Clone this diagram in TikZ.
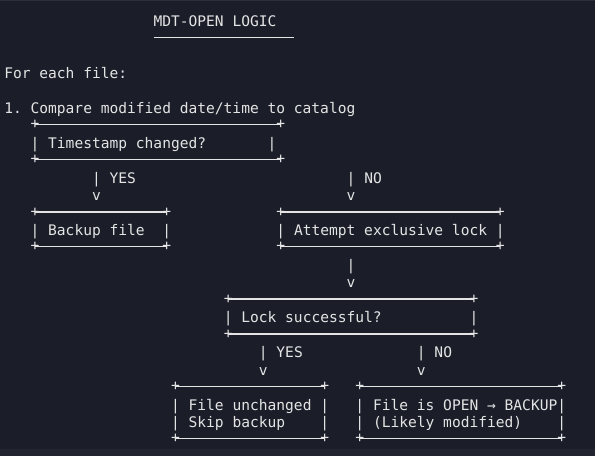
\documentclass[tikz,border=0pt]{standalone}
\usepackage{fontspec}
\setmonofont{DejaVu Sans Mono}
\definecolor{bg}{HTML}{1B1E29}
\definecolor{bgstrip}{HTML}{22252F}
\definecolor{topline}{HTML}{2C2F3A}
\definecolor{fg}{HTML}{E4E4E4}
\newcommand\mytx[4]{\node[txt] (#1) at ({4.27+8.78*#2},{26.2+17.45*#3}) {#4};}
\newcommand\mypl[3]{\node[plus] (#1) at ({8.66+8.78*#2},{19.9+17.45*#3}) {+};}
\begin{document}
\begin{tikzpicture}[x=1pt,y=-1pt,
  txt/.style={anchor=base west,inner sep=0pt,outer sep=0pt,text=fg,
    font=\ttfamily\fontsize{14.58}{17.45}\selectfont},
  plus/.style={anchor=center,inner sep=0pt,outer sep=0pt,text=fg,
    font=\ttfamily\fontsize{14.58}{17.45}\selectfont},
  hline/.style={draw=fg,line width=1.3pt}]
\useasboundingbox (0,0) rectangle (595,456);
\fill[bg] (0,0) rectangle (595,456);
\fill[bgstrip] (0,449) rectangle (595,456);
\fill[topline] (0,0) rectangle (595,1.2);

% title
\mytx{title}{17}{0}{MDT-OPEN LOGIC}
\coordinate (ulA) at (153.5,37.35);
\coordinate (ulB) at (294,37.35);
\draw[hline] (ulA) -- (ulB);

\mytx{intro}{0}{3}{For each file:}
\mytx{step1}{0}{5}{1. Compare modified date/time to catalog}

% box 1: Timestamp changed?
\mypl{b1tl}{3}{6}\mypl{b1tr}{31}{6}
\mytx{b1l}{3}{7}{|}\mytx{b1t}{5}{7}{Timestamp changed?}\mytx{b1r}{30}{7}{|}
\mypl{b1bl}{3}{8}\mypl{b1br}{31}{8}
\draw[hline] (b1tl.center) -- (b1tr.center);
\draw[hline] (b1bl.center) -- (b1br.center);

% branches from box 1
\mytx{y1bar}{10}{9}{|}\mytx{y1lab}{12}{9}{YES}
\mytx{n1bar}{39}{9}{|}\mytx{n1lab}{41}{9}{NO}
\mytx{y1v}{10}{10}{v}
\mytx{n1v}{39}{10}{v}

% box 2: Backup file
\mypl{b2tl}{3}{11}\mypl{b2tr}{18}{11}
\mytx{b2l}{3}{12}{|}\mytx{b2t}{5}{12}{Backup file}\mytx{b2r}{18}{12}{|}
\mypl{b2bl}{3}{13}\mypl{b2br}{18}{13}
\draw[hline] (b2tl.center) -- (b2tr.center);
\draw[hline] (b2bl.center) -- (b2br.center);

% box 3: Attempt exclusive lock
\mypl{b3tl}{31}{11}\mypl{b3tr}{56}{11}
\mytx{b3l}{31}{12}{|}\mytx{b3t}{33}{12}{Attempt exclusive lock}\mytx{b3r}{56}{12}{|}
\mypl{b3bl}{31}{13}\mypl{b3br}{56}{13}
\draw[hline] (b3tl.center) -- (b3tr.center);
\draw[hline] (b3bl.center) -- (b3br.center);

\mytx{a3bar}{39}{14}{|}
\mytx{a3v}{39}{15}{v}

% box 4: Lock successful?
\mypl{b4tl}{25}{16}\mypl{b4tr}{53}{16}
\mytx{b4l}{25}{17}{|}\mytx{b4t}{27}{17}{Lock successful?}\mytx{b4r}{53}{17}{|}
\mypl{b4bl}{25}{18}\mypl{b4br}{53}{18}
\draw[hline] (b4tl.center) -- (b4tr.center);
\draw[hline] (b4bl.center) -- (b4br.center);

\mytx{y2bar}{29}{19}{|}\mytx{y2lab}{31}{19}{YES}
\mytx{n2bar}{47}{19}{|}\mytx{n2lab}{49}{19}{NO}
\mytx{y2v}{29}{20}{v}
\mytx{n2v}{47}{20}{v}

% box 5: File unchanged
\mypl{b5tl}{19}{21}\mypl{b5tr}{36}{21}
\mytx{b5l1}{19}{22}{|}\mytx{b5t1}{21}{22}{File unchanged}\mytx{b5r1}{36}{22}{|}
\mytx{b5l2}{19}{23}{|}\mytx{b5t2}{21}{23}{Skip backup}\mytx{b5r2}{36}{23}{|}
\mypl{b5bl}{19}{24}\mypl{b5br}{36}{24}
\draw[hline] (b5tl.center) -- (b5tr.center);
\draw[hline] (b5bl.center) -- (b5br.center);

% box 6: File is OPEN
\mypl{b6tl}{40}{21}\mypl{b6tr}{63}{21}
\mytx{b6l1}{40}{22}{|}\mytx{b6t1}{42}{22}{File is OPEN → BACKUP}\mytx{b6r1}{63}{22}{|}
\mytx{b6l2}{40}{23}{|}\mytx{b6t2}{42}{23}{(Likely modified)}\mytx{b6r2}{63}{23}{|}
\mypl{b6bl}{40}{24}\mypl{b6br}{63}{24}
\draw[hline] (b6tl.center) -- (b6tr.center);
\draw[hline] (b6bl.center) -- (b6br.center);
\end{tikzpicture}
\end{document}
